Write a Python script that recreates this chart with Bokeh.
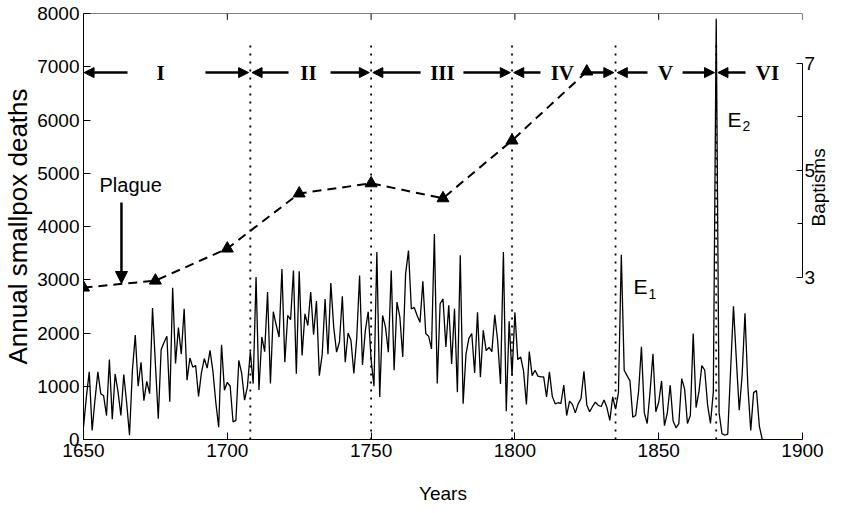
import math
from bokeh.plotting import figure
from bokeh.models import (Range1d, LinearAxis, FixedTicker, Arrow, NormalHead,
                          ColumnDataSource, Span)
from bokeh.embed import file_html
from bokeh.resources import INLINE
from bokeh.core.properties import value

# ---------------- data ----------------
d1650 = [230, 800, 1270, 170, 750, 1270, 860, 820, 450, 1500]
d1660 = [380, 1230, 900, 450, 1220, 690, 80, 1300, 1960, 1000]
d1670 = [1450, 730, 1090, 860, 2470, 1420, 390, 1690, 1820, 1940]
d1680 = [710, 2850, 1430, 2100, 1600, 2455, 1115, 1530, 1360, 1390]
d1690 = [810, 1250, 1520, 1340, 1675, 1280, 700, 230, 1780, 925]
d1700 = [1075, 1000, 330, 360, 1485, 1240, 740, 995, 1650, 1050]
d1710 = [3050, 930, 1925, 1650, 2770, 1050, 2400, 2150, 1925, 3200]
d1720 = [1450, 2330, 2250, 3175, 1235, 3160, 1580, 2360, 2140, 2770]
d1730 = [1970, 2600, 1200, 1600, 2640, 1600, 2940, 2110, 1640, 1830]
d1740 = [2690, 1450, 2000, 1860, 1240, 1900, 3080, 1400, 2050, 2400]
d1750 = [1500, 1000, 3520, 800, 2330, 2110, 1640, 3175, 1300, 2580]
d1760 = [2300, 1550, 3110, 3550, 2450, 2480, 2330, 2200, 2970, 1990]
d1770 = [1940, 1700, 3860, 1050, 2550, 2640, 1740, 2520, 1420, 2455]
d1780 = [890, 3460, 670, 1610, 1900, 1990, 1250, 2390, 1170, 2050]
d1790 = [1670, 1730, 1650, 2340, 1860, 1045, 3520, 530, 2220, 1200]
d1800 = [2390, 1500, 1550, 1290, 660, 1650, 1200, 1300, 1190, 1175]
d1810 = [1175, 800, 1270, 810, 670, 690, 680, 1020, 450, 720]
d1820 = [660, 500, 670, 770, 1280, 650, 520, 620, 700, 640]
d1830 = [620, 740, 600, 360, 800, 570, 880, 3470, 1300, 1200]
d1840 = [1100, 420, 450, 900, 1740, 500, 300, 900, 1610, 520]
d1850 = [700, 1100, 260, 500, 1020, 350, 220, 300, 1140, 950]
d1860 = [300, 450, 1990, 600, 900, 1390, 1300, 650, 300, 900]
d1870 = [7900, 500, 110, 80, 100, 1300, 2500, 1500, 550, 1200]
d1880 = [2370, 1000, 170, 880, 920, 250, 0]

deaths = (d1650 + d1660 + d1670 + d1680 + d1690 + d1700 + d1710 + d1720 +
          d1730 + d1740 + d1750 + d1760 + d1770 + d1780 + d1790 + d1800 +
          d1810 + d1820 + d1830 + d1840 + d1850 + d1860 + d1870 + d1880)
years = list(range(1650, 1650 + len(deaths)))

bapt_years = [1650, 1675, 1700, 1725, 1750, 1775, 1799, 1825]
bapt_values = [2.81, 2.94, 3.54, 4.57, 4.76, 4.48, 5.56, 6.85]

period_labels = ["I", "II", "III", "IV", "V", "VI"]
period_label_x = [1676.8, 1728.2, 1774.8, 1816.5, 1852.4, 1887.8]
period_bounds = [1708, 1750, 1799, 1835, 1870]
bound_top = 7450
period_row = 6890
left_arrow_tail = [1665.3, 1721.3, 1767.2, 1808.9, 1846.1, 1880.2]
left_arrow_head = [1650.2, 1708.6, 1750.6, 1799.6, 1835.6, 1870.6]
right_arrow_tail = [1692.4, 1735.9, 1782.1, 1824.5, 1858.3]
right_arrow_head = [1707.4, 1749.4, 1798.4, 1834.4, 1869.4]

plague_text_x, plague_text_y = 1666.4, 4770
plague_year, plague_top, plague_tip = 1663.2, 4450, 2930

event_x = [1841.2, 1873.9]
event_y = [2873, 6010]
event_main = ["E", "E"]
event_sub = ["1", "2"]

x_ticks = [1650, 1700, 1750, 1800, 1850, 1900]
y_ticks = [0, 1000, 2000, 3000, 4000, 5000, 6000, 7000, 8000]
b_ticks = [3, 5, 7]
b_minor = [4, 6]

SANS = "Liberation Sans"
SERIF = "Liberation Serif"

# ---------------- figure ----------------
p = figure(width=842, height=513, output_backend="svg", toolbar_location=None,
           x_range=Range1d(1650, 1900), y_range=Range1d(0, 8000),
           min_border_left=83, min_border_right=40, min_border_top=13,
           min_border_bottom=74)
p.extra_y_ranges = {"bapt": Range1d(-0.03, 7.935)}
p.xgrid.visible = False
p.ygrid.visible = False
p.outline_line_color = None
p.background_fill_color = "white"
p.border_fill_color = "white"

def style_axis(ax, ticker):
    ax.ticker = ticker
    ax.axis_line_color = "black"
    ax.axis_line_width = 1
    ax.major_tick_line_color = "black"
    ax.major_tick_in = 7
    ax.major_tick_out = 0
    ax.minor_tick_line_color = None
    ax.major_label_text_color = "black"
    ax.major_label_text_font = SANS
    ax.major_label_text_font_size = "19px"
    ax.major_label_standoff = 4
    ax.axis_label_text_font = SANS
    ax.axis_label_text_font_style = "normal"
    ax.axis_label_text_color = "black"

xa = p.xaxis[0]
style_axis(xa, FixedTicker(ticks=x_ticks))
xa.axis_label = "Years"
xa.axis_label_text_font_size = "19px"
xa.axis_label_standoff = 23

ya = p.yaxis[0]
style_axis(ya, FixedTicker(ticks=y_ticks))
ya.axis_label = "Annual smallpox deaths"
ya.axis_label_text_font_size = "26px"
ya.axis_label_standoff = 1

right = LinearAxis(y_range_name="bapt", bounds=(3, 7))
style_axis(right, FixedTicker(ticks=b_ticks, minor_ticks=b_minor))
right.major_tick_in = 6
right.minor_tick_line_color = "black"
right.minor_tick_in = 5
right.minor_tick_out = 0
right.major_label_standoff = 2
right.axis_label = "Baptisms"
right.axis_label_text_font_size = "19px"
right.axis_label_standoff = 0
right.axis_label_orientation = math.pi / 2
p.add_layout(right, "right")

# top frame line with inward ticks
p.add_layout(Span(location=8000, dimension="width", line_color="black", line_width=1))
p.segment(x0=x_ticks, y0=[8000] * len(x_ticks), x1=x_ticks,
          y1=[7880] * len(x_ticks), line_color="black", line_width=1)

# period boundaries (dotted)
p.segment(x0=period_bounds, y0=[0] * len(period_bounds), x1=period_bounds,
          y1=[bound_top] * len(period_bounds), line_color="black",
          line_width=1.8, line_dash="2 6")

# deaths series
p.line(years, deaths, line_color="black", line_width=1.3)

# baptisms
p.line(bapt_years, bapt_values, y_range_name="bapt", line_color="black",
       line_width=2, line_dash="9 6")
p.scatter(bapt_years, bapt_values, y_range_name="bapt", marker="triangle",
          size=12, fill_color="black", line_color="black")

# period arrows and labels
arrows_src = ColumnDataSource(dict(
    x0=left_arrow_tail + right_arrow_tail,
    x1=left_arrow_head + right_arrow_head,
    y=[period_row] * (len(left_arrow_tail) + len(right_arrow_tail))))
p.add_layout(Arrow(end=NormalHead(size=10, fill_color="black", line_color="black"),
                   source=arrows_src, x_start="x0", y_start="y", x_end="x1",
                   y_end="y", line_color="black", line_width=2.5))
p.text(x=period_label_x, y=[period_row] * len(period_labels), text=period_labels,
       text_align="center", text_baseline="middle", text_font=value(SERIF),
       text_font_style="bold", text_font_size="21px", text_color="black")

# plague annotation
p.text(x=[plague_text_x], y=[plague_text_y], text=["Plague"], text_align="center",
       text_baseline="middle", text_font=value(SANS), text_font_size="20px",
       text_color="black")
p.add_layout(Arrow(end=NormalHead(size=12, fill_color="black", line_color="black"),
                   x_start=plague_year, y_start=plague_top, x_end=plague_year,
                   y_end=plague_tip, line_color="black", line_width=2.5))

# E1 / E2 labels
p.text(x=event_x, y=event_y, text=event_main, text_align="left",
       text_baseline="middle", text_font=value(SANS), text_font_size="21px",
       text_color="black")
p.text(x=event_x, y=event_y, text=event_sub, text_align="left",
       text_baseline="middle", text_font=value(SANS), text_font_size="14px",
       text_color="black", x_offset=15, y_offset=7)

open("out.html", "w").write(file_html(p, INLINE))
